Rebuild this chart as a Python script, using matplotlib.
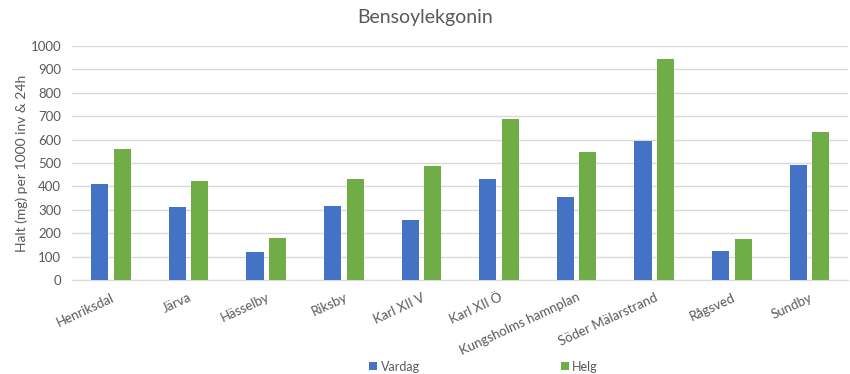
import matplotlib
matplotlib.use("Agg")
import matplotlib.pyplot as plt
import numpy as np

plt.rcParams['font.family'] = ['Lato', 'DejaVu Sans']

# Reningsverk och uppmätta halter
platser = ['Henriksdal', 'Järva', 'Hässelby', 'Riksby', 'Karl XII V', 'Karl XII Ö',
           'Kungsholms hamnplan', 'Söder Mälarstrand', 'Rågsved', 'Sundby']
vardag = [410, 312, 120, 318, 258, 430, 356, 594, 126, 490]
helg = [558, 422, 178, 430, 488, 690, 548, 944, 174, 634]
yticks = [0, 100, 200, 300, 400, 500, 600, 700, 800, 900, 1000]

blue = '#4472C4'
green = '#70AD47'
txt = '#595959'

fig = plt.figure(figsize=(8.5, 3.74), dpi=100)
ax = fig.add_axes([0.085, 0.251, 0.913, 0.626])

x = np.arange(len(platser))
w = 0.22
ax.bar(x - 0.145, vardag, w, color=blue, label='Vardag', zorder=3)
ax.bar(x + 0.145, helg, w, color=green, label='Helg', zorder=3)

ax.set_xlim(-0.5, len(platser) - 0.5)
ax.set_ylim(0, 1000)
ax.set_yticks(yticks)
ax.yaxis.grid(True, color='#D9D9D9', linewidth=1, zorder=0)
ax.set_axisbelow(True)
for s in ['top', 'right', 'left']:
    ax.spines[s].set_visible(False)
ax.spines['bottom'].set_color('#D9D9D9')
ax.tick_params(axis='both', length=0, colors=txt, labelsize=9.5)
ax.tick_params(axis='y', pad=8)

ax.set_xticks(x)
ax.set_xticklabels(platser, rotation=25, ha='right', rotation_mode='anchor')
ax.tick_params(axis='x', pad=8)

ax.set_ylabel('Halt (mg) per 1000 inv & 24h', color=txt, fontsize=10, labelpad=2)
fig.text(0.5, 0.952, 'Bensoylekgonin', ha='center', va='center', color=txt, fontsize=14)

fig.legend(loc='center', bbox_to_anchor=(0.569, 0.02), ncol=2, frameon=False,
           columnspacing=11.3, handlelength=0.6, handleheight=0.6, handletextpad=0.3,
           fontsize=9, labelcolor=txt)

fig.savefig('out.png', dpi=100)
